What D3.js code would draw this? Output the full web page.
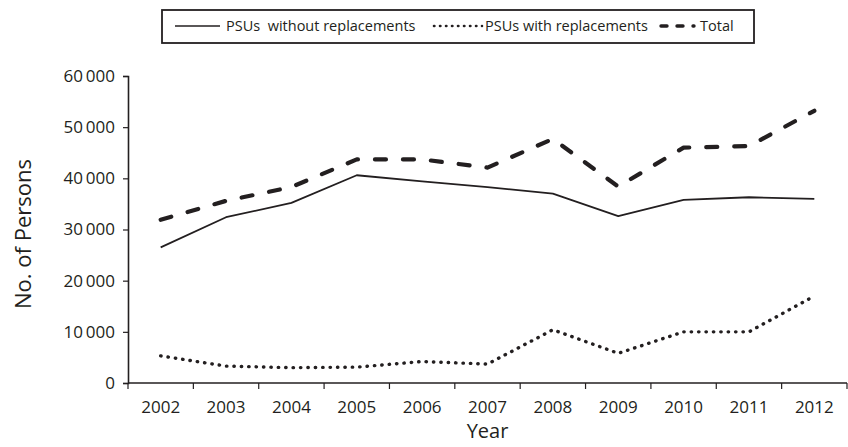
<!DOCTYPE html>
<html>
<head>
<meta charset="utf-8">
<script src="https://cdn.jsdelivr.net/npm/d3@7"></script>
<style>
  body { margin: 0; background: #fff; }
  svg text { font-family: "Open Sans", sans-serif; fill: #231f20; }
</style>
</head>
<body>
<div id="chart"></div>
<script>
// data
var years = ["2002", "2003", "2004", "2005", "2006", "2007", "2008", "2009", "2010", "2011", "2012"];
var withoutRepl = [26500, 32400, 35200, 40600, 39400, 38300, 37000, 32600, 35800, 36300, 36000];
var withRepl = [5300, 3300, 3000, 3100, 4200, 3700, 10400, 5800, 10000, 10000, 17000];
var total = [31900, 35600, 38300, 43700, 43700, 42100, 47700, 38400, 46000, 46300, 53200];
var yTicks = [0, 10000, 20000, 30000, 40000, 50000, 60000];

var W = 848, H = 447;
var ink = "#231f20";

var svg = d3.select("#chart").append("svg")
  .attr("width", W)
  .attr("height", H);

var x = d3.scaleBand().domain(years).range([128, 847]);
var y = d3.scaleLinear().domain([0, 60000]).range([383, 76]);

// y axis
var yAxis = svg.append("g")
  .attr("transform", "translate(128,0)")
  .call(d3.axisLeft(y).tickValues(yTicks).tickSize(5).tickPadding(8)
    .tickFormat(function(d){ return d3.format(",")(d).replace(",", "\u2009"); }));
yAxis.select(".domain").attr("stroke", ink).attr("stroke-width", 1.6);
yAxis.selectAll(".tick line").attr("stroke", ink).attr("stroke-width", 1.2);
yAxis.selectAll("text").attr("font-size", 17).attr("fill", ink);

// x axis - ticks sit between the years
var xAxis = svg.append("g")
  .attr("transform", "translate(0,383)")
  .call(d3.axisBottom(x).tickSize(0).tickPadding(18));
xAxis.select(".domain").remove();
xAxis.selectAll("text").attr("font-size", 17).attr("fill", ink);
svg.append("line")
  .attr("x1", 128).attr("x2", 847)
  .attr("y1", 383).attr("y2", 383)
  .attr("stroke", ink).attr("stroke-width", 1.6);
svg.append("g").selectAll("line")
  .data(years.concat(["end"]))
  .enter().append("line")
  .attr("x1", function(d, i){ return x(years[0]) + i * x.step(); })
  .attr("x2", function(d, i){ return x(years[0]) + i * x.step(); })
  .attr("y1", 383).attr("y2", 389)
  .attr("stroke", ink).attr("stroke-width", 1.2);

// axis titles
svg.append("text")
  .attr("x", (128 + 847) / 2).attr("y", 438)
  .attr("text-anchor", "middle")
  .attr("font-size", 20)
  .text("Year");
svg.append("text")
  .attr("transform", "translate(31,234) rotate(-90)")
  .attr("text-anchor", "middle")
  .attr("font-size", 22)
  .text("No. of Persons");

// lines
var line = d3.line()
  .x(function(d, i){ return x(years[i]) + x.bandwidth() / 2; })
  .y(function(d){ return y(d); });

var series = [
  { name: "PSUs  without replacements", values: withoutRepl, width: 1.8, dash: null, cap: "butt" },
  { name: "PSUs with replacements", values: withRepl, width: 3.4, dash: "0.4 7", cap: "round" },
  { name: "Total", values: total, width: 4.2, dash: "11 17", cap: "round" }
];

svg.append("g").selectAll("path")
  .data(series)
  .enter().append("path")
  .attr("d", function(d){ return line(d.values); })
  .attr("fill", "none")
  .attr("stroke", ink)
  .attr("stroke-width", function(d){ return d.width; })
  .attr("stroke-dasharray", function(d){ return d.dash; })
  .attr("stroke-linecap", function(d){ return d.cap; })
  .attr("stroke-linejoin", "round");

// legend
var leg = svg.append("g");
leg.append("rect")
  .attr("x", 162).attr("y", 10)
  .attr("width", 592).attr("height", 33)
  .attr("fill", "#fff")
  .attr("stroke", ink).attr("stroke-width", 1.8);

var legItems = [
  { x1: 175, x2: 220, tx: 226, width: 1.6, dash: null, cap: "butt" },
  { x1: 434, x2: 482, tx: 485, width: 2.6, dash: "0.4 5.6", cap: "round" },
  { x1: 661, x2: 694, tx: 700, width: 3.4, dash: "6 10", cap: "round" }
];
legItems.forEach(function(it, i){
  leg.append("line")
    .attr("x1", it.x1).attr("x2", it.x2)
    .attr("y1", 26).attr("y2", 26)
    .attr("stroke", ink)
    .attr("stroke-width", it.width)
    .attr("stroke-dasharray", it.dash)
    .attr("stroke-linecap", it.cap);
  leg.append("text")
    .attr("x", it.tx).attr("y", 26)
    .attr("dy", "0.35em")
    .attr("font-size", 14.5)
    .attr("xml:space", "preserve")
    .text(series[i].name);
});
</script>
</body>
</html>
